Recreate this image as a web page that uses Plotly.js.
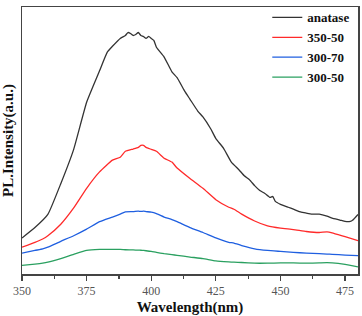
<!DOCTYPE html>
<html><head><meta charset="utf-8">
<script src="https://cdn.plot.ly/plotly-3.0.1.min.js"></script>
<style>html,body{margin:0;padding:0;background:#fff}#c{width:362px;height:316px}</style>
</head><body><div id="c"></div>
<script>
const seriesNames = ["anatase", "350-50", "300-70", "300-50"];
const seriesColors = ["#333333", "#ff2a2a", "#1f5fe0", "#2aa060"];
const wlBlack = [350,355,360,365,370,375,380,383,385,388,390,391,392,393,394,395,396,397,398,399,400,401,402,405,408,410,413,415,418,420,423,425,428,431,434,436,438,440,442,444,446,447,448,450,453,455,458,460,462,465,468,470,473,475,477,478,480];
const anatase = [36.7,47.3,60.7,92,127,175,207,226,232,240,243,246,245,243,244,246,243,242,240,242,240,238,231,221,206,200,186,178,166,160,148,138,128,114,106,100,96,90,85,82,78,79,74,71,68,66,63,62,61,61,59,57,55,53.5,53.5,55,60.7];
const wl = [350,355,358,360,365,370,375,380,385,388,390,393,395,396,397,398,400,402,405,408,410,415,420,425,430,432,435,440,445,450,455,460,465,468,470,475,480];
const s350_50 = [27.3,32.3,35.7,39,50.7,67.3,87.3,104,116,119,125,127.3,129,131,131,129,127,125,118,114,108,97.3,87.3,75.7,68,66,61,54,49,46.7,45.3,43.3,42.3,43,42,38,34];
const s300_70 = [21.3,24,25.5,27.3,33.3,39,45.7,53.3,58,61,63.3,63.5,64,63.7,64,63.6,63,61.5,58,55.5,53.3,47.3,42.3,36.7,32.3,31.5,29,25.7,24,23,22,21.3,20.7,20.3,20,19.3,18.7];
const s300_50 = [8.7,10,11,12,15.7,20,24,25,25,25,24.7,24.5,24.3,24.2,24,23.7,23,22,20.7,19.7,19,17.3,15.7,13.3,12.3,12,11.7,11,11,11.3,11.3,11,11.3,11.5,11.3,9.7,7.3];
const xTicks = [350,375,400,425,450,475];

const ys = [anatase, s350_50, s300_70, s300_50];
const xs = [wlBlack, wl, wl, wl];
const traces = ys.map((y,i)=>({
  x: xs[i], y: y, type:"scatter", mode:"lines", name: seriesNames[i],
  line:{color: seriesColors[i], width:1.3, shape:"spline", smoothing:0.4}
}));
const serif = "'Liberation Serif', 'Times New Roman', serif";
const layout = {
  width:362, height:316,
  margin:{l:22, r:4, t:2, b:42},
  paper_bgcolor:"#fff", plot_bgcolor:"#fff",
  showlegend:true,
  legend:{x:0.73, y:1.017, xanchor:"left", yanchor:"top", bgcolor:"rgba(0,0,0,0)",
    font:{family:serif, size:13, color:"#111", weight:"bold"}, tracegroupgap:0, itemwidth:30},
  xaxis:{range:[350,480], tickvals:xTicks, ticktext:xTicks.map(String), ticks:"outside", ticklen:5, tickwidth:1.2, tickcolor:"#444",
    minor:{dtick:12.5, ticks:"outside", ticklen:3, tickcolor:"#444", tick0:350},
    showline:true, linecolor:"#444", linewidth:1.5, mirror:true, showgrid:false, zeroline:false,
    tickfont:{family:serif, size:12, color:"#555"},
    title:{text:"Wavelength(nm)", font:{family:serif, size:15, color:"#111", weight:"bold"}, standoff:6}},
  yaxis:{range:[0,272], showticklabels:false, ticks:"", showline:true, linecolor:"#444", linewidth:1.5, mirror:true,
    showgrid:false, zeroline:false,
    title:{text:"PL.Intensity(a.u.)", font:{family:serif, size:15, color:"#111", weight:"bold"}, standoff:4}}
};
Plotly.newPlot("c", traces, layout, {displayModeBar:false, staticPlot:true});
</script></body></html>
